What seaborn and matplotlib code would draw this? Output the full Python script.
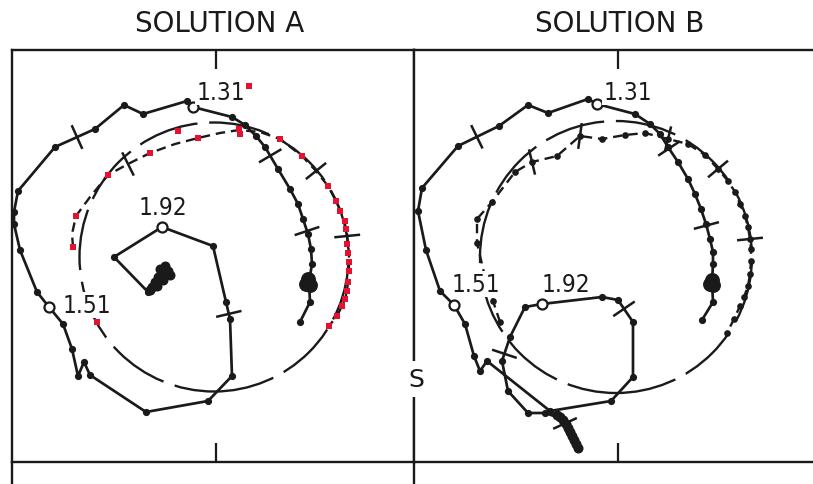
import numpy as np
import matplotlib
matplotlib.use("Agg")
import matplotlib.pyplot as plt
import seaborn as sns
from matplotlib.lines import Line2D
from matplotlib.patches import Circle

sns.set_theme(style="white")
plt.rcParams['font.family'] = ['DejaVu Sans']

# ---------------- SOLUTION A ----------------
# main trajectory (offsets from the centre of the reference circle)
a_track_u = [-66, -100, -52, -1, 12, 16, 18, -6, -68, -124,
             -130, -136, -142, -151, -165, -177, -194, -200, -200, -196,
             -159, -119, -90, -71, -27, -21, 18, 31, 42, 51,
             64, 76, 84, 89, 94, 97, 98, 95, 96, 86]
a_track_v = [-35, 0, 30, 11, -45, -62, -119, -144, -155, -118,
             -105, -119, -92, -67, -50, -35, 7, 33, 45, 66,
             110, 128, 152, 143, 156, 150, 140, 132, 121, 110,
             88, 68, 53, 38, 23, 8, -7, -25, -45, -65]
a_open_idx = [2, 14, 25]
a_track_ticks = [4.7, 20.55, 29.4, 33.8]

a_cluster_u = [-62, -59, -56, -52, -54, -49, -46, -44, -51, -57, -64]
a_cluster_v = [-30, -25, -20, -17, -12, -9, -14, -18, -23, -29, -33]
a_blob_u = [94, 92, 96]
a_blob_v = [-22, -27, -28]

# second (dashed) solution path
a_dash_u = [-141, -142, -138, -124, -106, -86, -64, -39, -16, 6,
            25, 46, 66, 88, 102, 114, 122, 127, 131, 133,
            134, 135, 135, 135, 134, 133, 131, 128, 123, 115]
a_dash_v = [10, 23, 41, 60, 82, 93, 104, 113, 119, 124,
            127, 125, 118, 101, 86, 71, 56, 45, 33, 23,
            13, 3, -5, -14, -25, -34, -42, -49, -59, -69]
a_dash_ticks = [5, 14, 19.2]

# red marks
a_red_u = [35, -36, -16, -64, -106, -138, -141, -117, 25, 26,
           66, 88, 114, 122, 126, 131, 132, 133, 134, 135,
           135, 134, 133, 131, 128, 123, 115]
a_red_v = [171, 126, 119, 104, 82, 41, 10, -65, 128, 123,
           118, 101, 71, 56, 46, 36, 28, 13, 4, -5,
           -14, -25, -34, -42, -49, -59, -69]

a_labels = ["1.92", "1.51", "1.31"]
a_label_u = [-51, -127, 7]
a_label_v = [43, -55, 158]
a_circle_r = 134.5

# ---------------- SOLUTION B ----------------
b_track_u = [-38, -43, -48, -53, -71, -88, -108, -114, -106, -91,
             -74, -14, 2, 17, 17, -5, -66, -129, -136, -142,
             -151, -162, -176, -190, -198, -194, -158, -117, -88, -68,
             -28, -19, 19, 34, 44, 52, 62, 72, 79, 85,
             90, 94, 97, 97, 96, 97, 86]
b_track_v = [-192, -183, -173, -162, -156, -156, -134, -104, -80, -50,
             -47, -40, -43, -65, -120, -144, -154, -104, -114, -99,
             -67, -48, -34, 7, 46, 69, 111, 131, 152, 144,
             158, 153, 143, 133, 123, 110, 95, 78, 63, 48,
             33, 18, 5, -7, -25, -45, -63]
b_open_idx = [10, 21, 31]
b_track_ticks = [2.6, 7.3, 12.4, 26.46, 35.1, 40.1]

b_cluster_u = [-38, -40, -42, -44, -46, -48, -50, -53, -56, -59]
b_cluster_v = [-191, -187, -183, -179, -175, -171, -167, -163, -160, -158]
b_blob_u = [96, 94, 97]
b_blob_v = [-23, -27, -28]

b_dash_u = [-116, -123, -130, -139, -139, -124, -101, -84, -59, -36,
            -14, 9, 29, 52, 72, 89, 102, 112, 119, 124,
            129, 132, 134, 135, 135, 134, 132, 128, 124, 118, 111]
b_dash_v = [-65, -44, -24, 14, 38, 55, 85, 95, 101, 121,
            118, 122, 124, 118, 113, 102, 88, 76, 65, 53,
            41, 30, 18, 8, -4, -17, -29, -40, -49, -62, -76]
b_dash_ticks = [7, 9, 13, 16, 22]

b_labels = ["1.92", "1.51", "1.31"]
b_label_u = [-50, -140, 12]
b_label_v = [-34, -34, 158]
b_circle_r = 136

RED = '#e5122f'


def crossbars(ax, xs, ys, positions, half=13, lw=1.8):
    xs = np.asarray(xs, float)
    ys = np.asarray(ys, float)
    for p in positions:
        i = int(np.floor(p))
        f = p - i
        if i >= len(xs) - 1:
            i, f = len(xs) - 2, 1.0
        dx, dy = xs[i + 1] - xs[i], ys[i + 1] - ys[i]
        x0, y0 = xs[i] + f * dx, ys[i] + f * dy
        n = np.hypot(dx, dy)
        nx, ny = -dy / n, dx / n
        ax.plot([x0 - half * nx, x0 + half * nx], [y0 - half * ny, y0 + half * ny],
                color='k', lw=lw, solid_capstyle='butt', zorder=3)


def draw_panel(ax, r, track_u, track_v, open_idx, track_ticks,
               cl_u, cl_v, blob_u, blob_v, dash_u, dash_v, dash_ticks,
               dash_dots, labels, lab_u, lab_v, red_u=None, red_v=None):
    # long-dashed reference circle
    circ = Circle((0, 0), r, fill=False, ec='k', lw=1.7,
                  ls=(0, (26, 5)), zorder=1)
    ax.add_patch(circ)

    # dashed path
    sns.lineplot(x=dash_u, y=dash_v, sort=False, estimator=None, ax=ax,
                 color='k', lw=1.7, zorder=2,
                 marker='o' if dash_dots else None, markersize=4.8,
                 markeredgewidth=0)
    ax.lines[-1].set_dashes((4.0, 2.5))
    crossbars(ax, dash_u, dash_v, dash_ticks)

    # main trajectory
    sns.lineplot(x=track_u, y=track_v, sort=False, estimator=None, ax=ax,
                 color='k', lw=1.95, zorder=3, marker='o', markersize=5.2,
                 markeredgewidth=0)
    crossbars(ax, track_u, track_v, track_ticks)

    sns.scatterplot(x=cl_u, y=cl_v, ax=ax, color='k', s=52, linewidth=0, zorder=3)
    sns.scatterplot(x=blob_u, y=blob_v, ax=ax, color='k', s=115, linewidth=0, zorder=3)

    ou = [track_u[i] for i in open_idx]
    ov = [track_v[i] for i in open_idx]
    sns.scatterplot(x=ou, y=ov, ax=ax, facecolor='white', edgecolor='k',
                    s=52, linewidth=1.6, zorder=4)

    for t, u, v in zip(labels, lab_u, lab_v):
        ax.text(u, v, t, ha='center', va='baseline', fontsize=17.5,
                family='DejaVu Sans', fontstretch='condensed',
                color='k', zorder=6,
                bbox=dict(boxstyle='square,pad=0.05', fc='white', ec='none'))

    if red_u is not None:
        sns.scatterplot(x=red_u, y=red_v, ax=ax, color=RED, marker='s', s=15,
                        linewidth=0, zorder=7)


W, H = 813, 485
fig = plt.figure(figsize=(W / 100, H / 100), dpi=100)
fig.patch.set_facecolor('white')

# panel frames in pixel units of the figure
ax_a = fig.add_axes([12 / W, 22 / H, 402 / W, 412 / H])
ax_b = fig.add_axes([414 / W, 22 / H, 586 / W, 412 / H])

draw_panel(ax_a, a_circle_r, a_track_u, a_track_v, a_open_idx, a_track_ticks,
           a_cluster_u, a_cluster_v, a_blob_u, a_blob_v,
           a_dash_u, a_dash_v, a_dash_ticks, False,
           a_labels, a_label_u, a_label_v, a_red_u, a_red_v)
draw_panel(ax_b, b_circle_r, b_track_u, b_track_v, b_open_idx, b_track_ticks,
           b_cluster_u, b_cluster_v, b_blob_u, b_blob_v,
           b_dash_u, b_dash_v, b_dash_ticks, True,
           b_labels, b_label_u, b_label_v)

for ax, xlim, tick in ((ax_a, (-202, 200), 2), (ax_b, (-202, 384), 1.5)):
    ax.set_xlim(*xlim)
    ax.set_ylim(-205, 207)
    ax.set_aspect('equal', adjustable='box', anchor='SW')
    ax.set_xticks([tick])
    ax.set_yticks([])
    ax.set_xticklabels([])
    ax.set_xlabel('')
    ax.set_ylabel('')
    ax.tick_params(axis='x', direction='in', length=14, width=1.6, color='k',
                   top=True, bottom=True, labelbottom=False, labeltop=False)
    for sp in ax.spines.values():
        sp.set_color('k')
        sp.set_linewidth(1.7)
    ax.set_facecolor('white')
    if ax.get_legend():
        ax.get_legend().remove()

# "S" marker interrupting the left edge of panel B
ax_b.text(-200, -129, "S", ha='center', va='baseline', fontsize=18, color='k',
          zorder=7, clip_on=False,
          bbox=dict(boxstyle='square,pad=0.25', fc='white', ec='none'))

# edges of the panels continuing below
for xp in (12, 414):
    fig.add_artist(Line2D([xp / W, xp / W], [0, 22 / H], color='k', lw=1.7,
                          transform=fig.transFigure))

fig.text(220 / W, 1 - 32 / H, "SOLUTION A", ha='center', va='baseline',
         fontsize=20, color='k')
fig.text(620 / W, 1 - 32 / H, "SOLUTION B", ha='center', va='baseline',
         fontsize=20, color='k')

fig.savefig("out.png", dpi=100, facecolor='white')
